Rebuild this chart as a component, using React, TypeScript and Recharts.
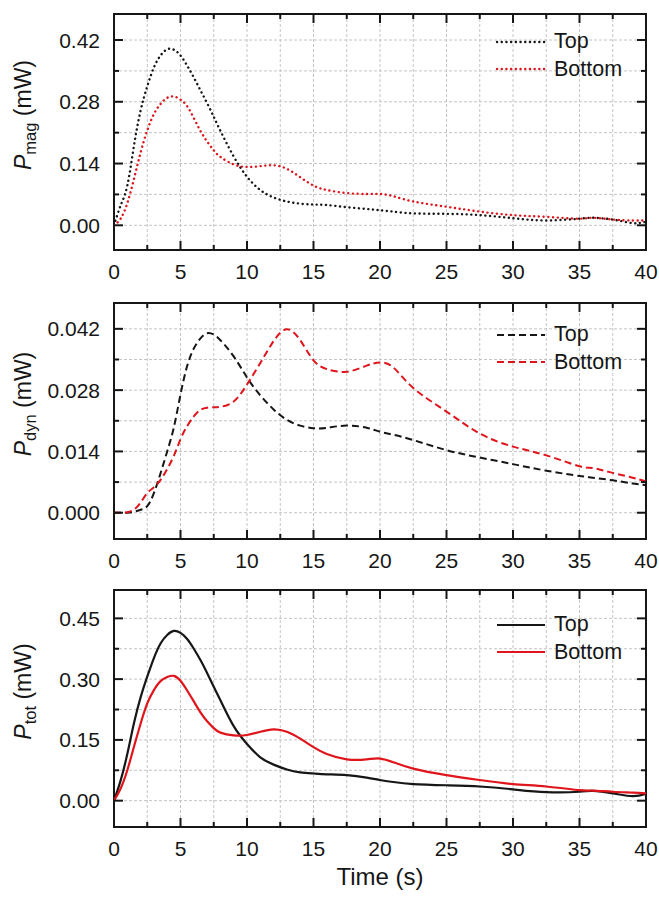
import { LineChart, Line, XAxis, YAxis, CartesianGrid, ReferenceArea, Legend } from 'recharts'

const FONT = '"Liberation Sans", Arial, Helvetica, sans-serif'
const INK = '#161616'
const RED = '#e0141b'
const GRID = '#c4c4c4'

// time base (s), shared by all panels
const time = [0, 0.5, 1, 1.5, 2, 2.5, 3, 3.5, 4, 4.5, 5, 5.5, 6, 6.5, 7, 7.5, 8, 9, 10, 11, 12, 13, 14, 15, 16, 17.5, 19, 20, 21, 22.5, 25, 27.5, 30, 32.5, 35, 36, 37.5, 39, 40]
const seriesNames = ['Top', 'Bottom']

// P_mag (mW)
const magTop = [0, 0.045, 0.09, 0.18, 0.26, 0.315, 0.358, 0.385, 0.399, 0.398, 0.385, 0.362, 0.335, 0.306, 0.277, 0.246, 0.214, 0.156, 0.11, 0.08, 0.063, 0.054, 0.049, 0.047, 0.046, 0.041, 0.037, 0.034, 0.031, 0.027, 0.026, 0.023, 0.016, 0.011, 0.015, 0.017, 0.013, 0.005, 0.008]
const magBottom = [0, 0.015, 0.05, 0.105, 0.165, 0.215, 0.252, 0.275, 0.289, 0.292, 0.285, 0.27, 0.243, 0.214, 0.19, 0.17, 0.155, 0.138, 0.132, 0.134, 0.136, 0.128, 0.109, 0.09, 0.08, 0.073, 0.071, 0.071, 0.066, 0.054, 0.042, 0.031, 0.023, 0.019, 0.015, 0.017, 0.013, 0.011, 0.011]

// P_dyn (mW)
const dynTop = [0, 0, 0, 0.0002, 0.0007, 0.0015, 0.0045, 0.009, 0.014, 0.0195, 0.027, 0.0335, 0.0375, 0.0398, 0.041, 0.0407, 0.0394, 0.0357, 0.0309, 0.0268, 0.0236, 0.0212, 0.0199, 0.0193, 0.0194, 0.0199, 0.0194, 0.0185, 0.0178, 0.0166, 0.0143, 0.0126, 0.0111, 0.0096, 0.0084, 0.008, 0.0074, 0.0067, 0.0063]
const dynBottom = [0, 0, 0.0001, 0.0007, 0.0023, 0.0045, 0.0058, 0.0075, 0.01, 0.013, 0.0168, 0.0198, 0.022, 0.0235, 0.024, 0.0241, 0.0242, 0.0254, 0.0293, 0.0342, 0.0392, 0.0419, 0.0394, 0.0348, 0.0328, 0.0322, 0.0336, 0.0343, 0.0332, 0.0285, 0.0231, 0.0181, 0.0151, 0.0131, 0.0106, 0.0102, 0.0091, 0.008, 0.0071]

// P_tot (mW)
const totTop = [0, 0.05, 0.115, 0.191, 0.255, 0.306, 0.352, 0.388, 0.409, 0.419, 0.414, 0.399, 0.375, 0.347, 0.315, 0.281, 0.248, 0.184, 0.14, 0.107, 0.089, 0.077, 0.07, 0.067, 0.065, 0.063, 0.057, 0.051, 0.046, 0.041, 0.038, 0.035, 0.028, 0.021, 0.022, 0.024, 0.018, 0.011, 0.017]
const totBottom = [0, 0.03, 0.075, 0.133, 0.19, 0.24, 0.273, 0.295, 0.305, 0.308, 0.296, 0.272, 0.245, 0.218, 0.196, 0.179, 0.168, 0.161, 0.162, 0.17, 0.176, 0.17, 0.153, 0.132, 0.115, 0.102, 0.102, 0.104, 0.095, 0.079, 0.063, 0.051, 0.041, 0.035, 0.026, 0.025, 0.022, 0.02, 0.018]

const xTicks = [0, 2.5, 5, 7.5, 10, 12.5, 15, 17.5, 20, 22.5, 25, 27.5, 30, 32.5, 35, 37.5, 40]
const magTicks = [0, 0.07, 0.14, 0.21, 0.28, 0.35, 0.42]
const dynTicks = [0, 0.007, 0.014, 0.021, 0.028, 0.035, 0.042]
const totTicks = [0, 0.075, 0.15, 0.225, 0.3, 0.375, 0.45]

const PLOT_LEFT = 114
const PLOT_RIGHT = 646

const isMajor = (v: number, step: number) => Math.abs(v / step - Math.round(v / step)) < 1e-6

const makeXTick = (plotTop: number, plotBottom: number) => (props: any) => {
  const { x, payload } = props
  const v = payload.value
  const major = isMajor(v, 5)
  const len = major ? 9 : 5
  return (
    <g>
      <line x1={x} x2={x} y1={plotBottom} y2={plotBottom - len} stroke={INK} strokeWidth={2} />
      <line x1={x} x2={x} y1={plotTop} y2={plotTop + len} stroke={INK} strokeWidth={2} />
      {major && (
        <text x={x} y={plotBottom + 29} textAnchor="middle" fontFamily={FONT} fontSize={21} fill={INK}>
          {v}
        </text>
      )}
    </g>
  )
}

const makeYTick = (step: number, decimals: number) => (props: any) => {
  const { y, payload } = props
  const v = payload.value
  const major = isMajor(v, step)
  const len = major ? 9 : 5
  return (
    <g>
      <line x1={PLOT_LEFT} x2={PLOT_LEFT + len} y1={y} y2={y} stroke={INK} strokeWidth={2} />
      <line x1={PLOT_RIGHT} x2={PLOT_RIGHT - len} y1={y} y2={y} stroke={INK} strokeWidth={2} />
      {major && (
        <text x={PLOT_LEFT - 14} y={y} dy="0.36em" textAnchor="end" fontFamily={FONT} fontSize={21} fill={INK}>
          {v.toFixed(decimals)}
        </text>
      )}
    </g>
  )
}

const YTitle = ({ sub, cy }: { sub: string; cy: number }) => (
  <text transform={`translate(31,${cy}) rotate(-90)`} textAnchor="middle" fontFamily={FONT} fontSize={23} fill={INK}>
    <tspan fontStyle="italic">P</tspan>
    <tspan fontSize={16.5} dy={5}>{sub}</tspan>
    <tspan dy={-5}> (mW)</tspan>
  </text>
)

const LegendBox = ({ payload, dash, cap, width }: any) => {
  const items = [...(payload || [])].sort((a: any, b: any) => seriesNames.indexOf(a.value) - seriesNames.indexOf(b.value))
  return (
    <div style={{ fontFamily: FONT, fontSize: 21.5, color: INK }}>
      {items.map((p: any) => (
        <div key={p.value} style={{ display: 'flex', alignItems: 'center', height: 27.5 }}>
          <svg width={50} height={10} style={{ display: 'block' }}>
            <line x1={1} x2={49} y1={5} y2={5} stroke={p.color} strokeWidth={width} strokeDasharray={dash} strokeLinecap={cap} />
          </svg>
          <span style={{ marginLeft: 8 }}>{p.value}</span>
        </div>
      ))}
    </div>
  )
}

interface PanelProps {
  top: number
  height: number
  plotH: number
  xAxisH: number
  domain: [number, number]
  yTicks: number[]
  step: number
  decimals: number
  sub: string
  topVals: number[]
  bottomVals: number[]
  dash?: string
  cap?: 'round' | 'butt'
  width: number
  legendTop: number
  title?: string
}

function Panel(p: PanelProps) {
  const marginTop = 14
  const plotTop = marginTop
  const plotBottom = marginTop + p.plotH
  const data = time.map((t, i) => ({ t, top: p.topVals[i], bottom: p.bottomVals[i] }))
  return (
    <div style={{ position: 'absolute', left: 0, top: p.top }}>
      <LineChart
        width={659}
        height={p.height}
        data={data}
        margin={{ top: marginTop, right: 659 - PLOT_RIGHT, bottom: p.height - marginTop - p.plotH - p.xAxisH, left: 0 }}
      >
        <CartesianGrid stroke={GRID} strokeDasharray="3 2" strokeWidth={1} />
        <XAxis
          dataKey="t"
          type="number"
          domain={[0, 40]}
          ticks={xTicks}
          interval={0}
          height={p.xAxisH}
          axisLine={false}
          tickLine={false}
          tick={makeXTick(plotTop, plotBottom)}
          allowDataOverflow
          label={
            p.title
              ? () => (
                  <text x={(PLOT_LEFT + PLOT_RIGHT) / 2} y={plotBottom + 58} textAnchor="middle" fontFamily={FONT} fontSize={24} fill={INK}>
                    {p.title}
                  </text>
                )
              : undefined
          }
        />
        <YAxis
          type="number"
          domain={p.domain}
          ticks={p.yTicks}
          interval={0}
          width={PLOT_LEFT}
          axisLine={false}
          tickLine={false}
          tick={makeYTick(p.step, p.decimals)}
          allowDataOverflow
          label={() => <YTitle sub={p.sub} cy={plotTop + p.plotH / 2 - 17} />}
        />
        <Line
          type="natural"
          dataKey="top"
          name="Top"
          stroke={INK}
          strokeWidth={p.width}
          strokeDasharray={p.dash}
          strokeLinecap={p.cap}
          dot={false}
          activeDot={false}
          isAnimationActive={false}
        />
        <Line
          type="natural"
          dataKey="bottom"
          name="Bottom"
          stroke={RED}
          strokeWidth={p.width}
          strokeDasharray={p.dash}
          strokeLinecap={p.cap}
          dot={false}
          activeDot={false}
          isAnimationActive={false}
        />
        <ReferenceArea x1={0} x2={40} y1={p.domain[0]} y2={p.domain[1]} fill="none" fillOpacity={0} stroke={INK} strokeWidth={2} />
        <Legend
          layout="vertical"
          align="center"
          verticalAlign="middle"
          wrapperStyle={{ left: 496, top: p.legendTop, width: 160, height: 56 }}
          content={(lp: any) => <LegendBox payload={lp.payload} dash={p.dash} cap={p.cap} width={p.width} />}
        />
      </LineChart>
    </div>
  )
}

export default function App() {
  return (
    <div style={{ position: 'absolute', left: 0, top: 0, width: 659, height: 898, background: '#fff' }}>
      <Panel top={0} height={289} plotH={236} xAxisH={30} domain={[-0.056, 0.479]} yTicks={magTicks} step={0.14} decimals={2}
        sub="mag" topVals={magTop} bottomVals={magBottom} dash="0.1 4.6" cap="round" width={2.4} legendTop={28} />
      <Panel top={289} height={287} plotH={236} xAxisH={30} domain={[-0.006, 0.0479]} yTicks={dynTicks} step={0.014} decimals={3}
        sub="dyn" topVals={dynTop} bottomVals={dynBottom} dash="7 4" cap="butt" width={2} legendTop={32} />
      <Panel top={576} height={322} plotH={237} xAxisH={61} domain={[-0.065, 0.52]} yTicks={totTicks} step={0.15} decimals={2}
        sub="tot" topVals={totTop} bottomVals={totBottom} width={2.2} legendTop={35} title="Time (s)" />
    </div>
  )
}
